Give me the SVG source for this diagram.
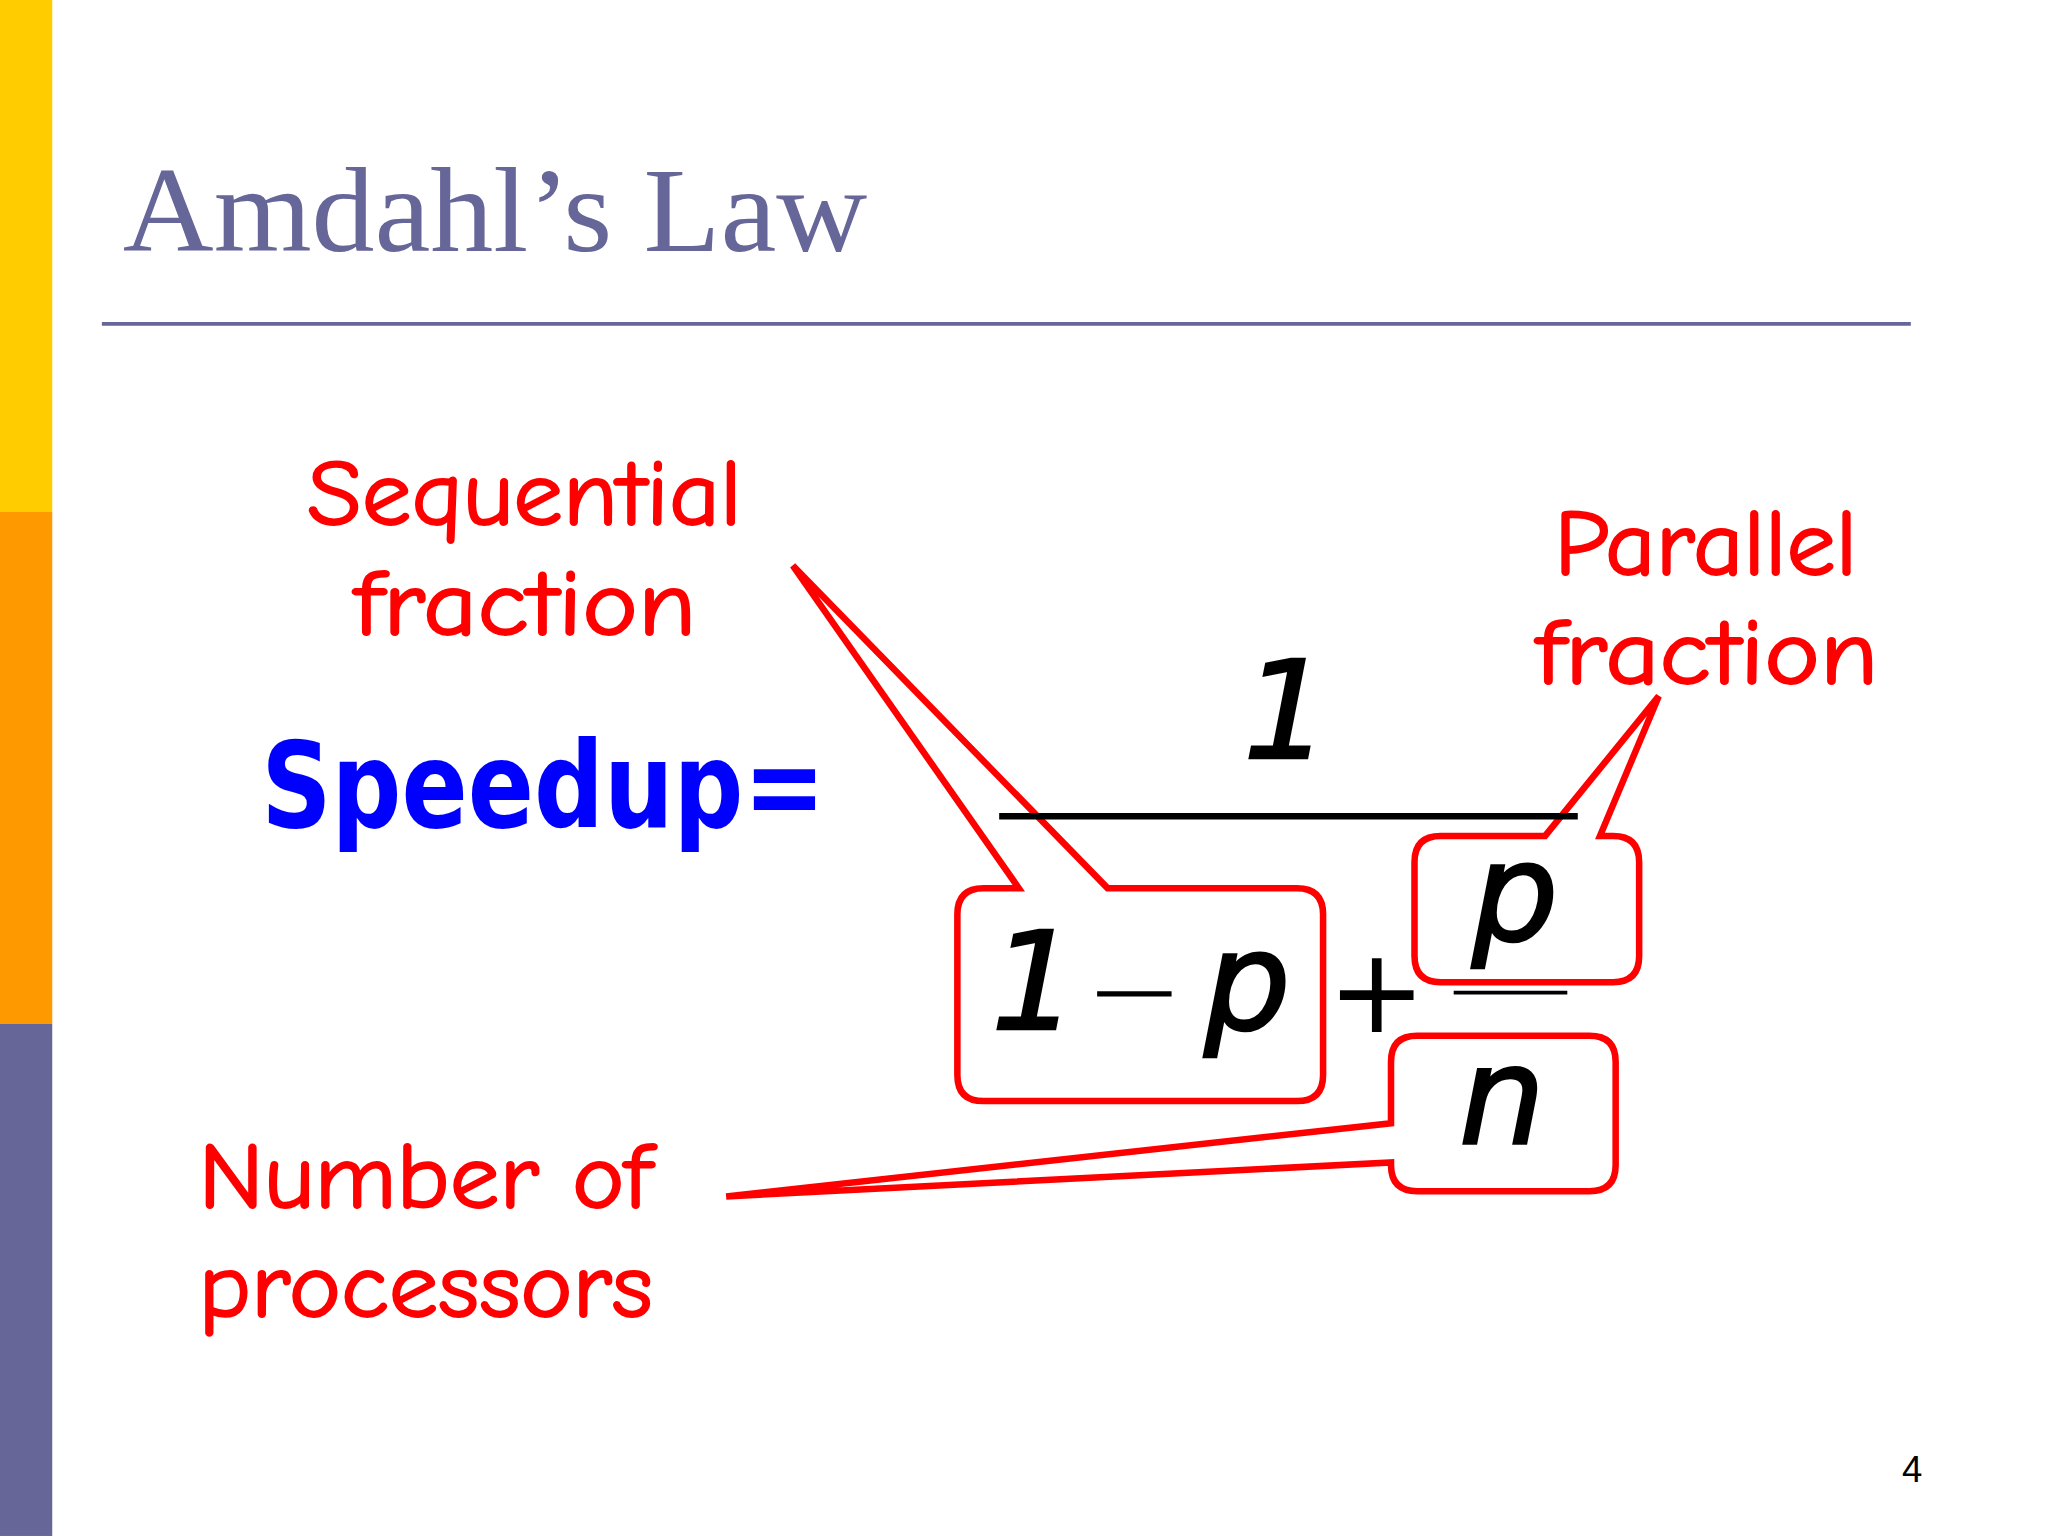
<svg xmlns="http://www.w3.org/2000/svg" width="2048" height="1536" viewBox="0 0 2048 1536">
<style>
.red{font-family:"Comic Neue","DejaVu Sans","Liberation Sans",sans-serif;fill:#ff0000;font-size:72px;stroke:#ff0000;stroke-width:1.5}
.m{font-family:"DejaVu Sans","Liberation Sans",sans-serif;font-style:italic;fill:#000;font-size:104px;stroke:#000;stroke-width:2}
.co{fill:#fff;stroke:#ff0000;stroke-width:5;stroke-linejoin:miter}
</style>
<rect width="2048" height="1536" fill="#fff"/>
<g transform="scale(1.3061)">
<g id="bar">
<rect x="0" y="0" width="40" height="392" fill="#ffcc00"/>
<rect x="0" y="392" width="40" height="392" fill="#ff9900"/>
<rect x="0" y="784" width="40" height="392" fill="#666699"/>
</g>
<g id="title">
<text x="94" y="192" font-family="Liberation Serif,serif" font-size="92" fill="#666699" textLength="570" lengthAdjust="spacingAndGlyphs">Amdahl’s Law</text>
<line x1="78" y1="248" x2="1463" y2="248" stroke="#666699" stroke-width="3"/>
</g>
<g id="connectors">
<path class="co" d="M753,680 L780,680 L607,433 L848,680 L993,680 Q1013,680 1013,700 L1013,823 Q1013,843 993,843 L753,843 Q733,843 733,823 L733,700 Q733,680 753,680 Z"/>
<path class="co" d="M1103,640 L1183,640 L1270,533 L1225,640 L1235,640 Q1255,640 1255,660 L1255,732 Q1255,752 1235,752 L1103,752 Q1083,752 1083,732 L1083,660 Q1083,640 1103,640 Z"/>
<path class="co" d="M1085,793 L1217,793 Q1237,793 1237,813 L1237,892 Q1237,912 1217,912 L1085,912 Q1065,912 1065,892 L1065,890 L556,916 L1065,860 L1065,813 Q1065,793 1085,793 Z"/>
</g>
<g id="formula">
<text x="200" y="633" font-family="DejaVu Sans,sans-serif" font-weight="bold" font-size="92" fill="#0000ff" textLength="432" lengthAdjust="spacingAndGlyphs">Speedup=</text>
<text x="985" y="580" class="m" text-anchor="middle">1</text>
<line x1="765" y1="625" x2="1208" y2="625" stroke="#000" stroke-width="5"/>
<text x="1054" y="790" font-family="DejaVu Sans,sans-serif" font-size="90" text-anchor="middle">+</text>
<line x1="1113" y1="760" x2="1200" y2="760" stroke="#000" stroke-width="3"/>
</g>
<g id="boxes">
<text x="792" y="788" class="m" text-anchor="middle">1</text>
<line x1="840" y1="761" x2="897" y2="761" stroke="#000" stroke-width="4"/>
<text x="955" y="788" class="m" text-anchor="middle">p</text>
<text x="1160" y="720" class="m" text-anchor="middle">p</text>
<text x="1150" y="875" class="m" text-anchor="middle">n</text>
</g>
<g id="labels">
<text x="235" y="402" class="red" textLength="333" lengthAdjust="spacingAndGlyphs">Sequential</text>
<text x="271" y="486" class="red" textLength="262" lengthAdjust="spacingAndGlyphs">fraction</text>
<text x="1190" y="440" class="red" textLength="232" lengthAdjust="spacingAndGlyphs">Parallel</text>
<text x="1176" y="524" class="red" textLength="262" lengthAdjust="spacingAndGlyphs">fraction</text>
<text x="152" y="925" class="red" textLength="347" lengthAdjust="spacingAndGlyphs">Number of</text>
<text x="152" y="1008" class="red" textLength="348" lengthAdjust="spacingAndGlyphs">processors</text>
</g>
<text x="1464" y="1135" font-family="Liberation Sans,sans-serif" font-size="28" text-anchor="middle">4</text>
</g>
</svg>
